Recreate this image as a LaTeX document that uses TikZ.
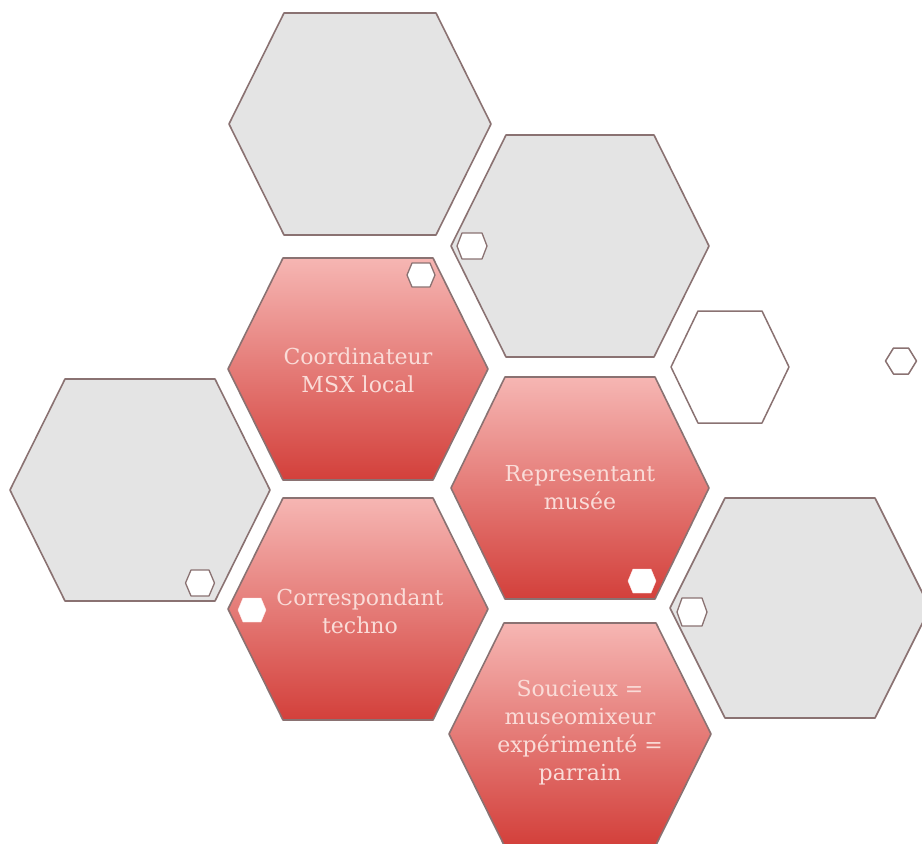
\documentclass[tikz,border=0pt]{standalone}
\usepackage{fontspec}
\setmainfont{DejaVu Serif}
\definecolor{hexgray}{HTML}{E4E4E4}
\definecolor{hexline}{HTML}{8A7272}
\definecolor{redtop}{HTML}{F6B6B3}
\definecolor{redbot}{HTML}{D3403B}
\definecolor{txtcol}{HTML}{FADCD8}
\newcommand\hexp[5]{({#1-#3},#2) -- ({#1-#4},{#2-#5}) -- ({#1+#4},{#2-#5}) -- ({#1+#3},#2) -- ({#1+#4},{#2+#5}) -- ({#1-#4},{#2+#5}) -- cycle}
\tikzset{
  grayhex/.style={draw=hexline, line width=1.6pt, fill=hexgray, line join=round},
  redhex/.style={draw=hexline, line width=1.6pt, top color=redtop, bottom color=redbot, line join=round},
  whitehex/.style={draw=hexline, line width=1.5pt, fill=white, line join=round},
  dothex/.style={draw=hexline, line width=1.3pt, fill=white, line join=round},
  lbl/.style={align=center, text=txtcol, font=\fontsize{22}{28}\selectfont, inner sep=0pt}
}
\begin{document}
\begin{tikzpicture}[x=1pt,y=-1pt]
\useasboundingbox (0,0) rectangle (922,844);
\clip (0,0) rectangle (922,844);
% big hexagons
\path[grayhex] \hexp{360}{124}{131}{76}{111};
\path[grayhex] \hexp{580}{246}{129}{74}{111};
\path[redhex]  \hexp{358}{369}{130}{75}{111};
\path[grayhex] \hexp{140}{490}{130}{75}{111};
\path[redhex]  \hexp{580}{488}{129}{75}{111};
\path[redhex]  \hexp{358}{609}{130}{75}{111};
\path[grayhex] \hexp{800}{608}{130}{75}{110};
\path[redhex]  \hexp{580}{734}{131}{76}{111};
% white hexagon and tiny one
\path[whitehex] \hexp{730}{367}{59}{32}{56};
\path[whitehex] \hexp{901}{361}{15.5}{7.5}{13};
% small hexagons
\path[dothex] \hexp{472}{246}{15}{10}{13};
\path[dothex] \hexp{421}{275}{14}{9}{12};
\path[dothex] \hexp{200}{583}{14.5}{9}{13};
\path[fill=white, draw=white!90!red] \hexp{252}{610}{14}{9}{12};
\path[fill=white, draw=white!90!red] \hexp{642}{581}{14}{9}{12};
\path[dothex] \hexp{692}{612}{15}{10}{14};
% labels
\node[lbl] (coord) at (358,370) {Coordinateur\\MSX local};
\node[lbl] (repr) at (580,488) {Representant\\musée};
\node[lbl] (corr) at (360,611) {Correspondant\\techno};
\node[lbl] (souc) at (580,733) {Soucieux =\\museomixeur\\expérimenté =\\parrain};
\end{tikzpicture}
\end{document}
